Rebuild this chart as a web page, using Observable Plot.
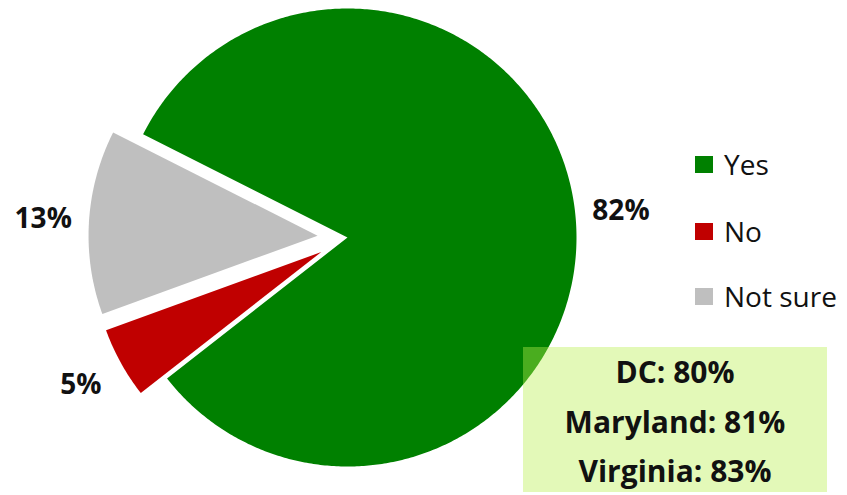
<!DOCTYPE html>
<html>
<head>
<meta charset="utf-8">
<script src="https://cdn.jsdelivr.net/npm/d3@7"></script>
<script src="https://cdn.jsdelivr.net/npm/@observablehq/plot@0.6"></script>
<style>
  html, body { margin: 0; padding: 0; background: #fff; }
  #wrap { position: relative; width: 847px; height: 495px; overflow: hidden; font-family: "Open Sans", sans-serif; }
  #chart { position: absolute; left: 0; top: 0; }
  #legend { position: absolute; left: 695px; top: 0; }
  .lrow { position: absolute; left: 0; display: flex; align-items: center; height: 30px; white-space: nowrap; font-size: 28px; color: #111; }
  .lsw { width: 18px; height: 17px; margin-right: 11px; }
  #box { position: absolute; left: 523px; top: 347px; width: 304px; height: 145px; background: rgba(185, 240, 77, 0.4); text-align: center; font-weight: 700; font-size: 30px; line-height: 49.5px; color: #111; }
</style>
</head>
<body>
<div id="wrap">
  <div id="chart"></div>
  <div id="legend"></div>
  <div id="box"></div>
</div>
<script>
// ---- data ----
const categories = ["Yes", "No", "Not sure"];
const shares = [82, 5, 13];
const shareLabels = ["82%", "5%", "13%"];
const sliceColors = ["#008000", "#c00000", "#bfbfbf"];
const stateNames = ["DC", "Maryland", "Virginia"];
const stateShares = [80, 81, 83];

// ---- layout ----
const W = 847, H = 495;
const cx = 347, cy = 237, R = 229;          // pixel centre / radius
const explodePx = 30;
const exploded = new Set(["No", "Not sure"]);
const startDeg = -63.2;

const pie = d3.pie().sort(null).value(d => d.share)
  .startAngle(startDeg * Math.PI / 180)
  .endAngle(startDeg * Math.PI / 180 + 2 * Math.PI);

const rows = categories.map((c, i) => ({cat: c, share: shares[i], label: shareLabels[i]}));
const arcs = pie(rows);

const poly = [];
const labelPts = [];
for (const a of arcs) {
  const mid = (a.startAngle + a.endAngle) / 2;
  const off = exploded.has(a.data.cat) ? explodePx / R : 0;
  const ox = off * Math.sin(mid), oy = off * Math.cos(mid);
  poly.push({cat: a.data.cat, x: ox, y: oy});
  const n = Math.max(4, Math.ceil((a.endAngle - a.startAngle) / 0.01));
  for (let k = 0; k <= n; k++) {
    const t = a.startAngle + (a.endAngle - a.startAngle) * k / n;
    poly.push({cat: a.data.cat, x: ox + Math.sin(t), y: oy + Math.cos(t)});
  }
  poly.push({cat: a.data.cat, x: ox, y: oy});
  const lr = 1.2 + off;
  labelPts.push({cat: a.data.cat, label: a.data.label, x: lr * Math.sin(mid), y: lr * Math.cos(mid)});
}

const chart = Plot.plot({
  width: W, height: H,
  margin: 0,
  x: {domain: [-cx / R, (W - cx) / R], axis: null},
  y: {domain: [-(H - cy) / R, cy / R], axis: null},
  color: {domain: categories, range: sliceColors},
  style: {fontFamily: "'Open Sans', sans-serif", background: "transparent"},
  marks: [
    Plot.line(poly, {x: "x", y: "y", z: "cat", fill: "cat", stroke: "none", curve: "linear"}),
    Plot.text(labelPts, {x: "x", y: "y", text: "label", fontSize: 28, fontWeight: 700, fill: "#111", textAnchor: "middle", lineAnchor: "middle"})
  ]
});
document.getElementById("chart").appendChild(chart);

// legend
const legendCenters = [164, 231, 296];
const legend = document.getElementById("legend");
categories.forEach((c, i) => {
  const row = document.createElement("div");
  row.className = "lrow";
  row.style.top = (legendCenters[i] - 15) + "px";
  const sw = document.createElement("div");
  sw.className = "lsw";
  sw.style.background = sliceColors[i];
  const tx = document.createElement("span");
  tx.textContent = c;
  row.appendChild(sw); row.appendChild(tx);
  legend.appendChild(row);
});

// annotation box
const box = document.getElementById("box");
stateNames.forEach((s, i) => {
  const d = document.createElement("div");
  d.textContent = `${s}: ${stateShares[i]}%`;
  box.appendChild(d);
});
</script>
</body>
</html>
